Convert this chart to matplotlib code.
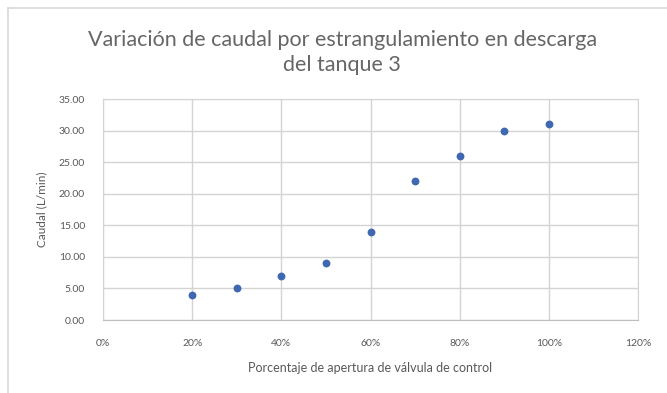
import matplotlib
matplotlib.use("Agg")
import matplotlib.pyplot as plt
from matplotlib.ticker import FuncFormatter, MultipleLocator

plt.rcParams['font.family'] = ['Lato', 'DejaVu Sans']

apertura = [0.2, 0.3, 0.4, 0.5, 0.6, 0.7, 0.8, 0.9, 1.0]
caudal = [4, 5, 7, 9, 14, 22, 26, 30, 31]

txt = '#595959'
grid = '#d4d4d4'

fig = plt.figure(figsize=(6.67, 3.93), dpi=100)
fig.patch.set_facecolor('white')

# chart frame (left and top edge)
fig.add_artist(plt.Line2D([8/667, 8/667], [0, 1 - 8/393], color='#d9d9d9', lw=1.2))
fig.add_artist(plt.Line2D([8/667, 1], [1 - 8/393, 1 - 8/393], color='#d9d9d9', lw=1.2))

ax = fig.add_axes([103/667, (393-320)/393, (638-103)/667, (320-99)/393])
ax.scatter(apertura, caudal, s=32, color='#4068b0', zorder=3, linewidths=0)

ax.set_xlim(0, 1.2)
ax.set_ylim(0, 35)
ax.xaxis.set_major_locator(MultipleLocator(0.2))
ax.yaxis.set_major_locator(MultipleLocator(5))
ax.xaxis.set_major_formatter(FuncFormatter(lambda v, p: f"{v*100:.0f}%"))
ax.yaxis.set_major_formatter(FuncFormatter(lambda v, p: f"{v:.2f}"))
ax.grid(True, color=grid, lw=1)
ax.set_axisbelow(True)
for s in ax.spines.values():
    s.set_color(grid)
ax.spines['bottom'].set_color('#bfbfbf')
ax.tick_params(length=0, labelsize=7.5, colors=txt, pad=14)
ax.tick_params(axis='y', pad=13)

ax.set_xlabel("Porcentaje de apertura de válvula de control", fontsize=9, color=txt, labelpad=10)
ax.set_ylabel("Caudal (L/min)", fontsize=8.5, color=txt, labelpad=8)

fig.text(0.513, 0.866, "Variación de caudal por estrangulamiento en descarga\ndel tanque 3",
         ha='center', va='center', fontsize=15.5, color='#666666', linespacing=1.3)

fig.savefig("out.png", dpi=100)
